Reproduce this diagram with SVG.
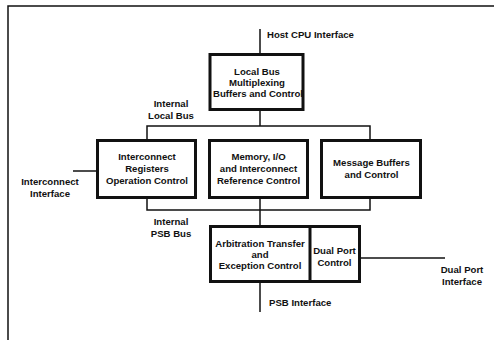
<svg xmlns="http://www.w3.org/2000/svg" width="494" height="340" viewBox="0 0 494 340">
<style>
.box{fill:#fff;stroke:#111;stroke-width:3}
.ln{fill:none;stroke:#111;stroke-width:1.5}
text{font-family:"Liberation Sans",Arial,sans-serif;font-weight:bold;font-size:9.6px;fill:#111;text-anchor:middle}
.l{text-anchor:start}
</style>
<rect width="494" height="340" fill="#fff"/>
<g id="connectors">
<path class="ln" d="M8 340 V6 H494"/>
<path class="ln" d="M260 29 V54"/>
<path class="ln" d="M260 110 V126"/>
<path class="ln" d="M147 140 V126 H370 V140"/>
<path class="ln" d="M147 198 V210 H370 V198"/>
<path class="ln" d="M260 198 V226"/>
<path class="ln" d="M260 282 V312"/>
<path class="ln" d="M73 171 H97"/>
<path class="ln" d="M360 258 H445"/>
</g>
<g id="host-cpu-interface"><text class="l" x="267" y="38">Host CPU Interface</text></g>
<g id="local-bus-box">
<rect class="box" x="210" y="54.5" width="93" height="55"/>
<text x="257" y="75">Local Bus</text>
<text x="257" y="86">Multiplexing</text>
<text x="258" y="97">Buffers and Control</text>
</g>
<g id="internal-local-bus"><text x="171" y="107">Internal</text><text x="171" y="118.5">Local Bus</text></g>
<g id="interconnect-registers">
<rect class="box" x="97.5" y="140.5" width="98" height="57"/>
<text x="147" y="160">Interconnect</text>
<text x="147" y="172">Registers</text>
<text x="147" y="184">Operation Control</text>
</g>
<g id="memory-io">
<rect class="box" x="209.5" y="140.5" width="98" height="57"/>
<text x="258.5" y="160">Memory, I/O</text>
<text x="258.5" y="172">and Interconnect</text>
<text x="258.5" y="184">Reference Control</text>
</g>
<g id="message-buffers">
<rect class="box" x="321.5" y="140.5" width="99" height="57"/>
<text x="371.5" y="166">Message Buffers</text>
<text x="371.5" y="178">and Control</text>
</g>
<g id="interconnect-interface"><text x="50" y="185">Interconnect</text><text x="50" y="197">Interface</text></g>
<g id="internal-psb-bus"><text x="171" y="225">Internal</text><text x="171" y="237">PSB Bus</text></g>
<g id="arbitration">
<rect class="box" x="210.5" y="226.5" width="149" height="55"/>
<text x="260" y="247">Arbitration Transfer</text>
<text x="260" y="258">and</text>
<text x="260" y="269">Exception Control</text>
</g>
<g id="dual-port-control">
<path d="M310 226.5 V281.5" stroke="#111" stroke-width="3"/>
<text x="334.5" y="254">Dual Port</text>
<text x="334.5" y="266">Control</text>
</g>
<g id="dual-port-interface"><text x="462" y="273">Dual Port</text><text x="462" y="285">Interface</text></g>
<g id="psb-interface"><text class="l" x="269" y="306">PSB Interface</text></g>
</svg>
